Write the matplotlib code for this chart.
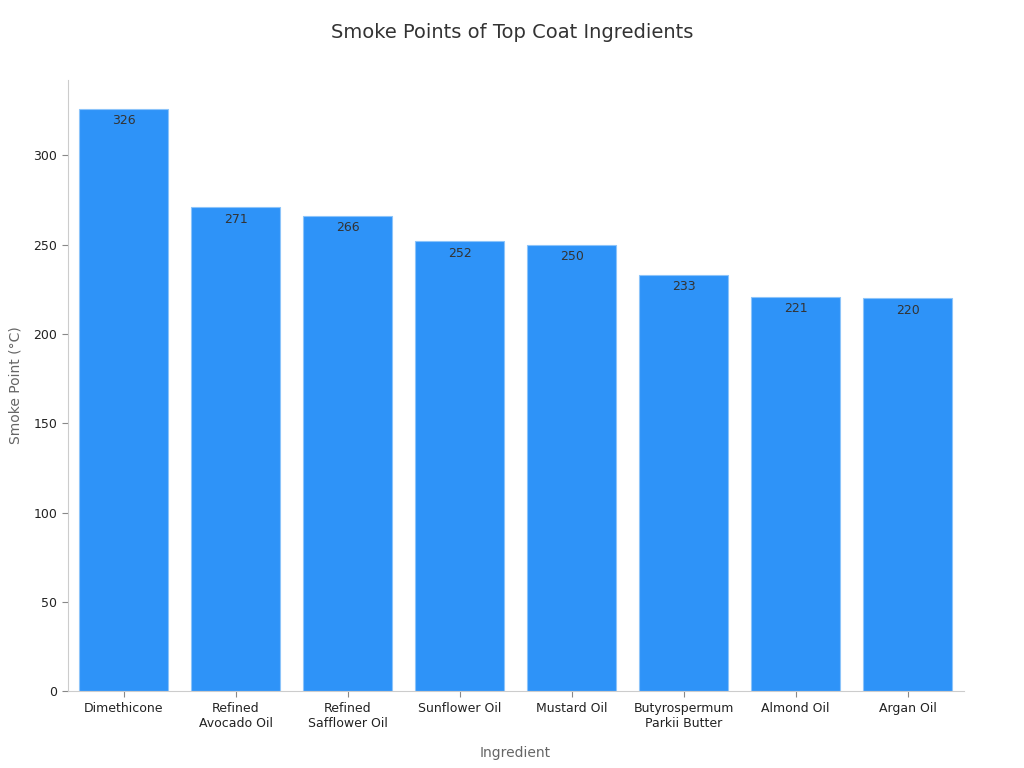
import matplotlib.pyplot as plt

ingredients = ['Dimethicone', 'Refined\nAvocado Oil', 'Refined\nSafflower Oil', 'Sunflower Oil',
               'Mustard Oil', 'Butyrospermum\nParkii Butter', 'Almond Oil', 'Argan Oil']
smoke_points = [326, 271, 266, 252, 250, 233, 221, 220]

fig, ax = plt.subplots(figsize=(10.24, 7.68), dpi=100)
fig.subplots_adjust(left=0.066, right=0.941, top=0.896, bottom=0.1)

x = range(len(ingredients))
bars = ax.bar(x, smoke_points, width=0.8, color='#2E93F8', edgecolor='#8CC4FA', linewidth=0.8)
for b, v in zip(bars, smoke_points):
    ax.text(b.get_x() + b.get_width() / 2, v - 3, str(v), ha='center', va='top',
            fontsize=9, color='#333333')

ax.set_xticks(list(x))
ax.set_xticklabels(ingredients, fontsize=9, color='#222222')
ax.set_xlim(-0.5, 7.5)
ax.set_ylim(0, 342.3)
ax.set_yticks([0, 50, 100, 150, 200, 250, 300])
ax.tick_params(axis='y', labelsize=9, colors='#222222')
ax.tick_params(axis='both', color='#888888', length=4)

ax.set_xlabel('Ingredient', fontsize=10, color='#666666', labelpad=12)
ax.set_ylabel('Smoke Point (°C)', fontsize=10, color='#666666', labelpad=8)
fig.suptitle('Smoke Points of Top Coat Ingredients', fontsize=14, color='#333333', y=0.97)

for s in ['top', 'right']:
    ax.spines[s].set_visible(False)
for s in ['left', 'bottom']:
    ax.spines[s].set_color('#CCCCCC')

fig.savefig('out.png')
